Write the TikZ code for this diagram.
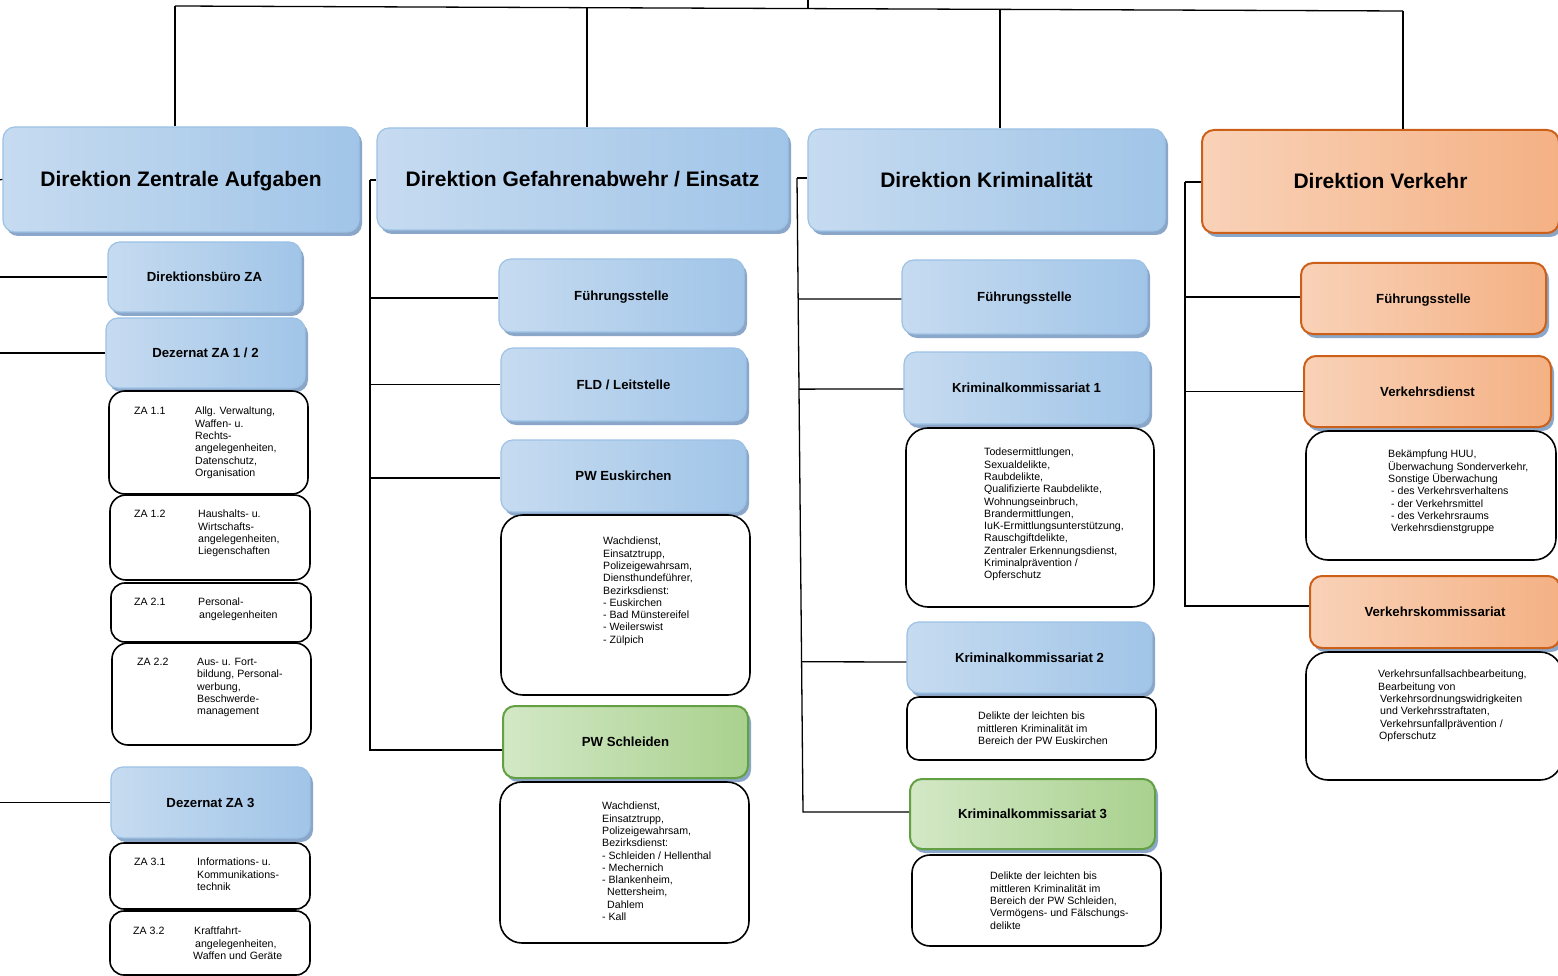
\documentclass[tikz,border=0pt]{standalone}
\usepackage{fontspec}
\setmainfont{Liberation Sans}
\usetikzlibrary{shadows,calc}
\definecolor{blueL}{HTML}{DDE9F6}
\definecolor{blueM}{HTML}{C6DBF0}
\definecolor{blueD}{HTML}{A1C5E8}
\definecolor{blueB}{HTML}{9CC2E5}
\definecolor{shd}{HTML}{8AA6C8}
\definecolor{orL}{HTML}{F9D2B8}
\definecolor{orD}{HTML}{F4B184}
\definecolor{orB}{HTML}{CC6019}
\definecolor{grL}{HTML}{D3E8C6}
\definecolor{grD}{HTML}{A9D18E}
\definecolor{grB}{HTML}{62A043}
\begin{document}
\begin{tikzpicture}[x=1pt,y=-1pt,
  box/.style={rounded corners=12pt, inner sep=0pt, align=center,
    drop shadow={shadow xshift=3pt, shadow yshift=-4pt, fill=shd, opacity=1}},
  bluebox/.style={box, draw=blueB, line width=1.2pt, left color=blueM, middle color=blueL, right color=blueD},
  orangebox/.style={box, draw=orB, line width=2pt, left color=orL, middle color=orL, right color=orD},
  greenbox/.style={box, draw=grB, line width=2pt, left color=grL, middle color=grL, right color=grD},
  hdrfont/.style={font=\fontsize{21}{25}\selectfont\bfseries, text height=15pt, text depth=0pt},
  subfont/.style={font=\fontsize{13.2}{16}\selectfont\bfseries, text height=9.5pt, text depth=0pt},
  txtbox/.style={draw=black, line width=1.6pt, fill=white, rounded corners=#1, inner sep=0pt},
  txtbox/.default=20pt,
  txt/.style={anchor=north west, inner sep=0pt, align=left, font=\fontsize{10.6}{12.3}\selectfont},
  conn/.style={draw=black, line width=1.3pt}
]
\clip (0,0) rectangle (1558,976);

% ---------- top bus ----------
\coordinate (top) at (808,-2);
\coordinate (b1) at (175,6);
\coordinate (b2) at (587,7.7);
\coordinate (b3) at (808,8.6);
\coordinate (b4) at (1000,9.4);
\coordinate (b5) at (1403,11);

% ---------- headers ----------
\node[bluebox,hdrfont,minimum width=356pt,minimum height=105pt] (dza) at (181,179.5) {Direktion Zentrale Aufgaben};
\node[bluebox,hdrfont,minimum width=411pt,minimum height=102pt] (dge) at (582.5,179) {Direktion Gefahrenabwehr / Einsatz};
\node[bluebox,hdrfont,minimum width=357pt,minimum height=102pt] (dk) at (986.5,180) {Direktion Kriminalität};
\node[orangebox,hdrfont,minimum width=357pt,minimum height=103pt] (dv) at (1380.5,181.5) {Direktion Verkehr};

% ---------- column ZA ----------
\node[bluebox,subfont,minimum width=193pt,minimum height=70pt] (dbza) at (204.5,277) {Direktionsbüro ZA};
\node[bluebox,subfont,minimum width=199pt,minimum height=70pt] (dez12) at (205.5,353) {Dezernat ZA 1 / 2};
\node[txtbox=16pt,minimum width=199pt,minimum height=103pt] (za11) at (208.5,442.5) {};
\node[txtbox=16pt,minimum width=200pt,minimum height=85pt] (za12) at (210,537.5) {};
\node[txtbox=14pt,minimum width=200pt,minimum height=59pt] (za21) at (211,612.5) {};
\node[txtbox=16pt,minimum width=199pt,minimum height=102pt] (za22) at (211.5,694) {};
\node[bluebox,subfont,minimum width=199pt,minimum height=71pt] (dez3) at (210.5,802.5) {Dezernat ZA 3};
\node[txtbox=14pt,minimum width=200pt,minimum height=66pt] (za31) at (210,876) {};
\node[txtbox=14pt,minimum width=200pt,minimum height=64pt] (za32) at (210,943) {};

\node[txt] (l11) at (134,407) {ZA 1.1};
\node[txt] (d11) at (195,407) {Allg. Verwaltung,\\Waffen- u.\\Rechts-\\angelegenheiten,\\Datenschutz,\\Organisation};
\node[txt] (l12) at (134,510) {ZA 1.2};
\node[txt] (d12) at (198,510) {Haushalts- u.\\Wirtschafts-\\angelegenheiten,\\Liegenschaften};
\node[txt] (l21) at (134,598) {ZA 2.1};
\node[txt] (d21) at (198,598) {Personal-\\\hspace{1pt}angelegenheiten};
\node[txt] (l22) at (137,658) {ZA 2.2};
\node[txt] (d22) at (197,658) {Aus- u. Fort-\\bildung, Personal-\\werbung,\\Beschwerde-\\management};
\node[txt] (l31) at (134,858) {ZA 3.1};
\node[txt] (d31) at (197,858) {Informations- u.\\Kommunikations-\\technik};
\node[txt] (l32) at (133,927) {ZA 3.2};
\node[txt] (d32) at (193,927) {\hspace{1pt}Kraftfahrt-\\\hspace{2pt}angelegenheiten,\\Waffen und Geräte};

% ---------- column GE ----------
\node[bluebox,subfont,minimum width=245pt,minimum height=73pt] (gefs) at (621.5,295.5) {Führungsstelle};
\node[bluebox,subfont,minimum width=245pt,minimum height=73pt] (fld) at (623.5,384.5) {FLD / Leitstelle};
\node[bluebox,subfont,minimum width=245pt,minimum height=72pt] (pweu) at (623.5,476) {PW Euskirchen};
\node[txtbox=22pt,minimum width=249pt,minimum height=180pt] (pweut) at (625.5,605) {};
\node[txt] (pweutx) at (603,537) {Wachdienst,\\Einsatztrupp,\\Polizeigewahrsam,\\Diensthundeführer,\\Bezirksdienst:\\- Euskirchen\\- Bad Münstereifel\\- Weilerswist\\- Zülpich};
\node[greenbox,subfont,minimum width=245pt,minimum height=72pt] (pwsc) at (625.5,742) {PW Schleiden};
\node[txtbox=22pt,minimum width=249pt,minimum height=161pt] (pwsct) at (624.5,862.5) {};
\node[txt] (pwsctx) at (602,802) {Wachdienst,\\Einsatztrupp,\\Polizeigewahrsam,\\Bezirksdienst:\\- Schleiden / Hellenthal\\- Mechernich\\- Blankenheim,\\\hspace{5pt}Nettersheim,\\\hspace{5pt}Dahlem\\- Kall};

% ---------- column K ----------
\node[bluebox,subfont,minimum width=245pt,minimum height=74pt] (kfs) at (1024.5,297) {Führungsstelle};
\node[bluebox,subfont,minimum width=245pt,minimum height=72pt] (kk1) at (1026.5,388) {Kriminalkommissariat 1};
\node[txtbox=22pt,minimum width=248pt,minimum height=179pt] (kk1t) at (1030,517.5) {};
\node[txt] (kk1tx) at (984,448) {Todesermittlungen,\\Sexualdelikte,\\Raubdelikte,\\Qualifizierte Raubdelikte,\\Wohnungseinbruch,\\Brandermittlungen,\\IuK-Ermittlungsunterstützung,\\Rauschgiftdelikte,\\Zentraler Erkennungsdienst,\\Kriminalprävention /\\Opferschutz};
\node[bluebox,subfont,minimum width=245pt,minimum height=71pt] (kk2) at (1029.5,657.5) {Kriminalkommissariat 2};
\node[txtbox=12pt,minimum width=249pt,minimum height=63pt] (kk2t) at (1031.5,728.5) {};
\node[txt] (kk2tx) at (977,712) {\hspace{1pt}Delikte der leichten bis\\mittleren Kriminalität im\\\hspace{1pt}Bereich der PW Euskirchen};
\node[greenbox,subfont,minimum width=245pt,minimum height=70pt] (kk3) at (1032.5,814) {Kriminalkommissariat 3};
\node[txtbox=18pt,minimum width=249pt,minimum height=91pt] (kk3t) at (1036.5,900.5) {};
\node[txt] (kk3tx) at (990,872) {Delikte der leichten bis\\mittleren Kriminalität im\\Bereich der PW Schleiden,\\Vermögens- und Fälschungs-\\delikte};

% ---------- column V ----------
\node[orangebox,subfont,minimum width=245pt,minimum height=71pt] (vfs) at (1423.5,298.5) {Führungsstelle};
\node[orangebox,subfont,minimum width=247pt,minimum height=71pt] (vd) at (1427.5,391.5) {Verkehrsdienst};
\node[txtbox=22pt,minimum width=250pt,minimum height=129pt] (vdt) at (1431,495.5) {};
\node[txt] (vdtx) at (1388,450) {Bekämpfung HUU,\\Überwachung Sonderverkehr,\\Sonstige Überwachung\\\hspace{3pt}- des Verkehrsverhaltens\\\hspace{3pt}- der Verkehrsmittel\\\hspace{3pt}- des Verkehrsraums\\\hspace{3pt}Verkehrsdienstgruppe};
\node[orangebox,subfont,minimum width=250pt,minimum height=72pt] (vk) at (1435,612) {Verkehrskommissariat};
\node[txtbox=22pt,minimum width=256pt,minimum height=128pt] (vkt) at (1434,716) {};
\node[txt] (vktx) at (1378,670) {Verkehrsunfallsachbearbeitung,\\Bearbeitung von\\\hspace{2pt}Verkehrsordnungswidrigkeiten\\\hspace{2pt}und Verkehrsstraftaten,\\\hspace{2pt}Verkehrsunfallprävention /\\\hspace{1pt}Opferschutz};

% ---------- connectors ----------
\draw[conn] (top) -- (b3);
\draw[conn] (b1) -- (b5);
\draw[conn] (b1) -- (b1 |- dza.north);
\draw[conn] (b2) -- (b2 |- dge.north);
\draw[conn] (b4) -- (b4 |- dk.north);
\draw[conn] (b5) -- (b5 |- dv.north);

% ZA (trunk off the left edge)
\coordinate (zat) at (-3,180);
\draw[conn] (zat) -- (dza.west);
\draw[conn] (zat |- dbza.west) -- (dbza.west);
\draw[conn] (zat |- dez12.west) -- (dez12.west);
\draw[conn] (zat |- dez3.west) -- (dez3.west);

% GE
\coordinate (get) at (370,180);
\coordinate (geb) at (370,750);
\draw[conn] (get) -- (get -| dge.west);
\draw[conn] (get) -- (geb) -- (geb -| pwsc.west);
\draw[conn] (370,298) -- (gefs.west |- 0,298);
\draw[conn] (get |- fld.west) -- (fld.west);
\draw[conn] (370,478) -- (pweu.west |- 0,478);

% K
\coordinate (kt) at (797,178);
\coordinate (kb) at (803,812);
\draw[conn] (kt) -- (kt -| dk.west);
\draw[conn] (kt) -- (kb) -- (kb -| kk3.west);
\draw[conn] ($(kt)!0.191!(kb)$) -- (kfs.west |- 0,299);
\draw[conn] ($(kt)!0.333!(kb)$) -- (kk1.west |- 0,389);
\draw[conn] ($(kt)!0.763!(kb)$) -- (kk2.west |- 0,662);

% V
\coordinate (vt) at (1185,182);
\coordinate (vb) at (1185,606);
\draw[conn] (vt) -- (vt -| dv.west);
\draw[conn] (vt) -- (vb) -- (vb -| vk.west);
\draw[conn] (1185,297) -- (vfs.west |- 0,297);
\draw[conn] (vt |- vd.west) -- (vd.west);
\end{tikzpicture}
\end{document}
